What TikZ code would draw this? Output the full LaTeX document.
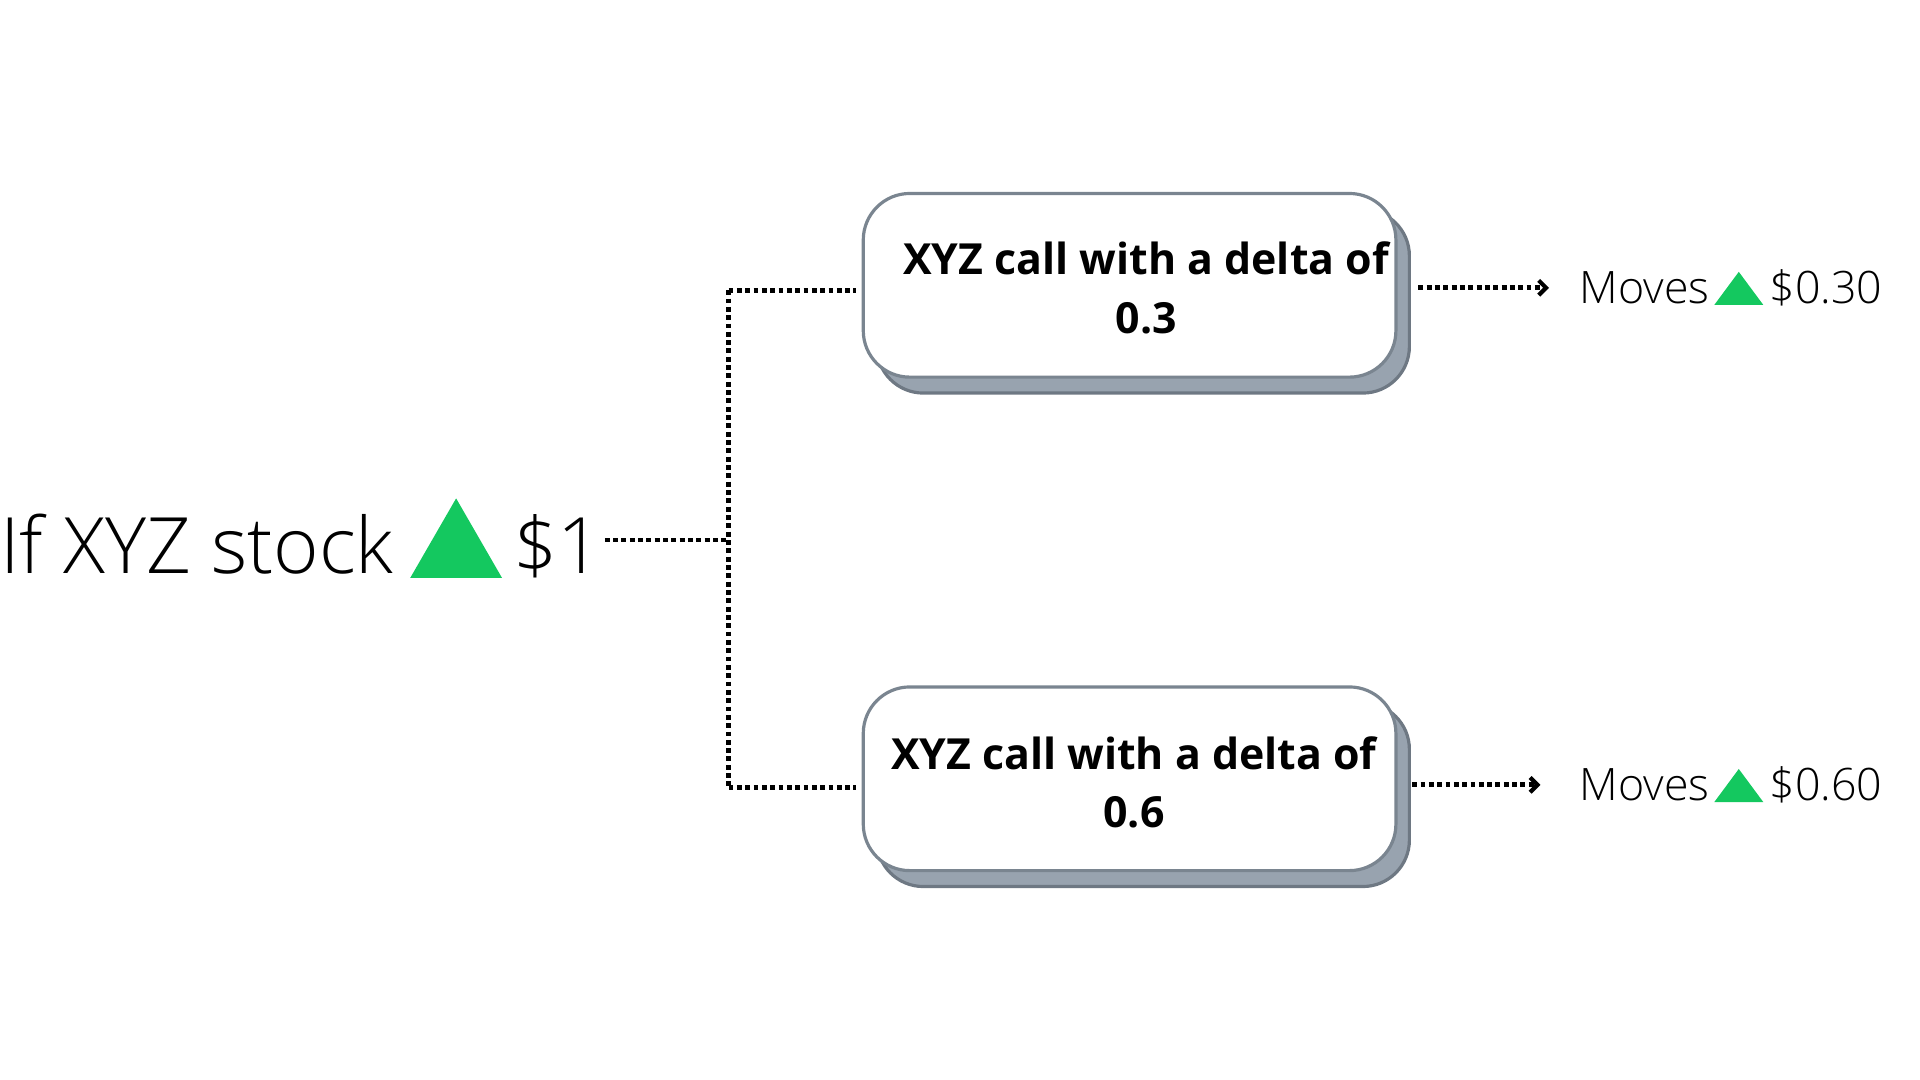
\documentclass[tikz,border=0pt]{standalone}
\usepackage{fontspec}
\usetikzlibrary{shadows,arrows.meta}
\setmainfont{Open Sans}
\IfFontExistsTF{Open Sans Light}{\newfontfamily\lightfont{Open Sans Light}}{\newfontfamily\lightfont{Open Sans}}
\definecolor{upgreen}{RGB}{20,200,95}
\definecolor{boxgray}{RGB}{122,133,144}
\definecolor{shadowgray}{RGB}{152,163,175}
\definecolor{shadowedge}{RGB}{110,120,131}
\begin{document}
\begin{tikzpicture}[x=1pt,y=-1pt,
  dotline/.style={line width=4pt, dash pattern=on 4pt off 2.8pt, black},
  dotarrow/.style={dotline, -{Straight Barb[length=6pt,width=12pt,line width=3.4pt]}},
  callbox/.style={draw=boxgray, line width=2.6pt, fill=white, rounded corners=38pt,
    minimum width=435pt, minimum height=150pt, inner sep=0pt,
    copy shadow={shadow xshift=11pt, shadow yshift=-13pt, fill=shadowgray, draw=shadowedge, line width=2.6pt}},
  boxtext/.style={font=\bfseries\fontsize{35}{48}\selectfont, align=center, inner sep=0pt},
  bigtext/.style={font=\lightfont\fontsize{63.5}{76}\selectfont, anchor=base west, inner sep=0pt},
  smalltext/.style={font=\lightfont\fontsize{36.5}{44}\selectfont, anchor=base west, inner sep=0pt},
  uptri/.style={fill=upgreen, draw=none}
]
\useasboundingbox (0,0) rectangle (1568,882);

% left statement
\node[bigtext] (stock) at (0,468) {If XYZ stock};
\fill[uptri] (335,472) -- (372.5,407) -- (410,472) -- cycle;
\node[bigtext] (dollar) at (419,468) {\$1};

% boxes
\node[callbox] (box1) at (922.5,233) {};
\node[boxtext] (t1) at (936,235) {XYZ call with a delta of\\0.3};
\node[callbox] (box2) at (922.5,636) {};
\node[boxtext] (t2) at (926,639) {XYZ call with a delta of\\0.6};

% right labels
\node[smalltext] (moves1) at (1290,248) {Moves};
\fill[uptri] (1400,249) -- (1420,222) -- (1440,249) -- cycle;
\node[smalltext] (val1) at (1445,248) {\$0.30};
\node[smalltext] (moves2) at (1290,654) {Moves};
\fill[uptri] (1400,655) -- (1420,628) -- (1440,655) -- cycle;
\node[smalltext] (val2) at (1445,654) {\$0.60};

% connectors
\coordinate (junc) at (595,441);
\coordinate (jtop) at (595,237);
\coordinate (jbot) at (595,643);
\draw[dotline] ([xshift=2pt]dollar.east |- junc) -- (junc);
\draw[dotline] (jtop) -- (jbot);
\draw[dotline] (jtop) -- ([xshift=-5pt]box1.west |- jtop);
\draw[dotline] (jbot) -- ([xshift=-5pt]box2.west |- jbot);
\draw[dotarrow] ([xshift=17pt,yshift=-2pt]box1.east) -- ([xshift=-25pt,yshift=-2pt]box1.east -| moves1.west);
\draw[dotarrow] ([xshift=12pt,yshift=-5pt]box2.east) -- ([xshift=-32pt,yshift=-5pt]box2.east -| moves2.west);
\end{tikzpicture}
\end{document}
